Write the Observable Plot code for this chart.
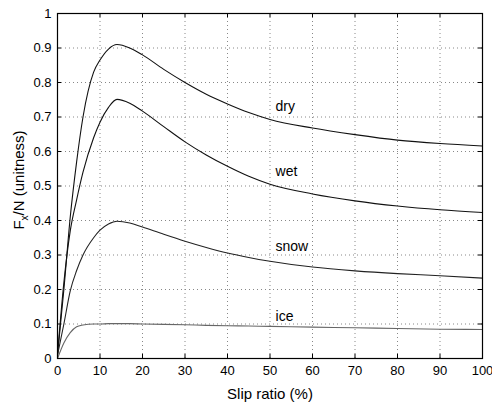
<!DOCTYPE html>
<html>
<head>
<meta charset="utf-8">
<script src="https://cdn.jsdelivr.net/npm/d3@7"></script>
<script src="https://cdn.jsdelivr.net/npm/@observablehq/plot@0.6"></script>
<style>
  html, body { margin: 0; padding: 0; background: #fff; }
  #chart { width: 492px; height: 409px; }
</style>
</head>
<body>
<div id="chart"></div>
<script>
// Slip ratio (%) sample positions
const slip = [0, 1.5, 3, 4.5, 6, 8.5, 10, 12, 14, 17, 20, 25, 30, 35, 40, 45, 50, 60, 70, 80, 90, 100];
// Fx/N values
const dry  = [0.01, 0.20, 0.41, 0.57, 0.70, 0.83, 0.865, 0.897, 0.91, 0.90, 0.88, 0.838, 0.80, 0.766, 0.738, 0.713, 0.693, 0.668, 0.649, 0.633, 0.623, 0.616];
const wet  = [0.01, 0.22, 0.37, 0.46, 0.54, 0.64, 0.685, 0.728, 0.751, 0.74, 0.717, 0.672, 0.628, 0.59, 0.557, 0.528, 0.505, 0.477, 0.457, 0.442, 0.431, 0.423];
const snow = [0.01, 0.10, 0.196, 0.255, 0.30, 0.35, 0.372, 0.39, 0.398, 0.393, 0.381, 0.36, 0.34, 0.322, 0.306, 0.293, 0.282, 0.265, 0.254, 0.246, 0.240, 0.233];
const ice  = [0.0, 0.045, 0.075, 0.092, 0.097, 0.10, 0.10, 0.101, 0.101, 0.101, 0.10, 0.099, 0.098, 0.096, 0.095, 0.094, 0.093, 0.091, 0.089, 0.087, 0.085, 0.084];

const seriesNames = ["dry", "wet", "snow", "ice"];
const seriesColors = ["#111", "#111", "#222", "#666"];
// Curve label anchors (x, y in data units)
const labelX = [51.3, 51.3, 51.3, 51.3];
const labelY = [0.729, 0.543, 0.326, 0.123];

const xTicks = [0, 10, 20, 30, 40, 50, 60, 70, 80, 90, 100];
const yTicks = [0, 0.1, 0.2, 0.3, 0.4, 0.5, 0.6, 0.7, 0.8, 0.9, 1];
const xLabel = "Slip ratio (%)";

const allSeries = [dry, wet, snow, ice];
const rows = [];
allSeries.forEach((vals, si) => {
  vals.forEach((v, i) => rows.push({series: seriesNames[si], x: slip[i], y: v}));
});
const labels = seriesNames.map((n, i) => ({name: n, x: labelX[i], y: labelY[i]}));

const font = "'Liberation Sans', Arial, Helvetica, sans-serif";

const plot = Plot.plot({
  width: 492,
  height: 409,
  marginLeft: 57,
  marginRight: 10,
  marginTop: 13,
  marginBottom: 51,
  style: {fontFamily: font, fontSize: "13px", color: "#000", background: "#fff"},
  x: {domain: [0, 100]},
  y: {domain: [0, 1]},
  color: {domain: seriesNames, range: seriesColors},
  marks: [
    Plot.gridX(xTicks, {stroke: "#888", strokeOpacity: 1, strokeDasharray: "1,3"}),
    Plot.gridY(yTicks, {stroke: "#888", strokeOpacity: 1, strokeDasharray: "1,3"}),
    Plot.axisX(xTicks, {tickSize: 0, tickPadding: 7, tickFormat: d => String(d), label: null, fontSize: 13}),
    Plot.axisY(yTicks, {tickSize: 0, tickPadding: 6, tickFormat: d => String(d), label: null, fontSize: 13}),
    // inward tick marks on all four sides
    Plot.ruleX(xTicks, {x: d => d, y1: 0, y2: 0.012, stroke: "#000"}),
    Plot.ruleX(xTicks, {x: d => d, y1: 0.988, y2: 1, stroke: "#000"}),
    Plot.ruleY(yTicks, {y: d => d, x1: 0, x2: 0.95, stroke: "#000"}),
    Plot.ruleY(yTicks, {y: d => d, x1: 99.05, x2: 100, stroke: "#000"}),
    Plot.line(rows, {x: "x", y: "y", z: "series", stroke: "series", strokeWidth: 1.1, curve: "monotone-x"}),
    Plot.text(labels, {x: "x", y: "y", text: "name", textAnchor: "start", fontSize: 14, fill: "#000"}),
    Plot.text([xLabel], {frameAnchor: "bottom", dy: 40, fontSize: 15, fill: "#000"}),
    Plot.frame({stroke: "#000", strokeWidth: 1.2})
  ]
});

// y-axis title with a true subscript
const svg = d3.select(plot);
const t = svg.append("text")
  .attr("transform", "translate(24,180) rotate(-90)")
  .attr("text-anchor", "middle")
  .attr("font-family", font)
  .attr("font-size", 15)
  .attr("fill", "#000");
t.append("tspan").text("F");
t.append("tspan").attr("font-size", 10).attr("dy", 4).text("x");
t.append("tspan").attr("dy", -4).text("/N (unitness)");

document.getElementById("chart").appendChild(plot);
</script>
</body>
</html>
